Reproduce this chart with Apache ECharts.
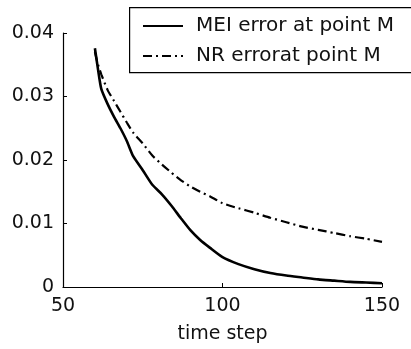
<!DOCTYPE html>
<html>
<head>
<meta charset="utf-8">
<script src="https://cdn.jsdelivr.net/npm/echarts@6/dist/echarts.min.js"></script>
<style>
html,body{margin:0;padding:0;background:#fff;}
#chart{width:411px;height:349px;}
</style>
</head>
<body>
<div id="chart"></div>
<script>
// Data
var timeSteps = [60,61,62,64,66,68,70,72,75,78,81,84,87,90,93,96,100,105,110,115,120,125,130,135,140,145,150];
var meiError  = [0.0376,0.0342,0.0312,0.0288,0.0268,0.0250,0.0230,0.0206,0.0184,0.0161,0.0146,0.0128,0.0108,0.0089,0.0074,0.0062,0.0047,0.0036,0.0028,0.0022,0.0018,0.0015,0.0012,0.0010,0.0008,0.0007,0.0006];
var nrError   = [0.0370,0.0350,0.0335,0.0310,0.0293,0.0276,0.0259,0.0243,0.0226,0.0207,0.0193,0.0180,0.0168,0.0158,0.0150,0.0143,0.0132,0.0124,0.0117,0.0109,0.0102,0.0095,0.0090,0.0085,0.0080,0.0076,0.0071];
var seriesNames = ['MEI error at point M', 'NR errorat point M'];
var xTitle = 'time step';

function zip(xs, ys){ return xs.map(function(x,i){ return [x, ys[i]]; }); }

var font = 'DejaVu Sans';
var chart = echarts.init(document.getElementById('chart'), null, {renderer:'canvas'});
chart.setOption({
  backgroundColor: '#fff',
  animation: false,
  graphic: [{
    type: 'rect', left: 129, top: 7, z: 0,
    shape: {width: 320, height: 65},
    style: {fill: '#fff', stroke: '#000', lineWidth: 1.2}
  }],
  grid: {left: 63, right: 29, top: 33, bottom: 62, containLabel: false},
  legend: {
    orient: 'vertical',
    left: 129, top: 7,
    padding: [9, 0, 9, 13],
    itemGap: 10,
    itemWidth: 40, itemHeight: 14,
    itemStyle: {opacity: 0},
    textStyle: {fontFamily: font, fontSize: 20, color: '#111', padding:[0,0,0,8]},
    data: seriesNames,
    z: 10
  },
  xAxis: {
    type: 'value', min: 50, max: 150, interval: 50,
    name: xTitle, nameLocation: 'middle', nameGap: 38,
    nameTextStyle: {fontFamily: font, fontSize: 19, color: '#111'},
    axisLine: {show: true, lineStyle: {color: '#000', width: 1.2}},
    axisTick: {show: true, inside: true, length: 4, lineStyle: {color: '#000'}},
    axisLabel: {fontFamily: font, fontSize: 19, color: '#111', margin: 10},
    splitLine: {show: false}
  },
  yAxis: {
    type: 'value', min: 0, max: 0.04, interval: 0.01,
    axisLine: {show: true, lineStyle: {color: '#000', width: 1.2}},
    axisTick: {show: true, inside: true, length: 4, lineStyle: {color: '#000'}},
    axisLabel: {fontFamily: font, fontSize: 19, color: '#111', margin: 9,
      formatter: function(v){ return v === 0 ? '0' : v.toFixed(2); }},
    splitLine: {show: false}
  },
  series: [
    {name: seriesNames[0], type: 'line', data: zip(timeSteps, meiError), symbol: 'none', smooth: 0.2,
     lineStyle: {color: '#000', width: 2.6, type: 'solid'}, itemStyle:{color:'#000'}},
    {name: seriesNames[1], type: 'line', data: zip(timeSteps, nrError), symbol: 'none', smooth: 0.2,
     lineStyle: {color: '#000', width: 2.2, type: [9, 4, 2, 4]}, itemStyle:{color:'#000'}}
  ]
});
</script>
</body>
</html>
